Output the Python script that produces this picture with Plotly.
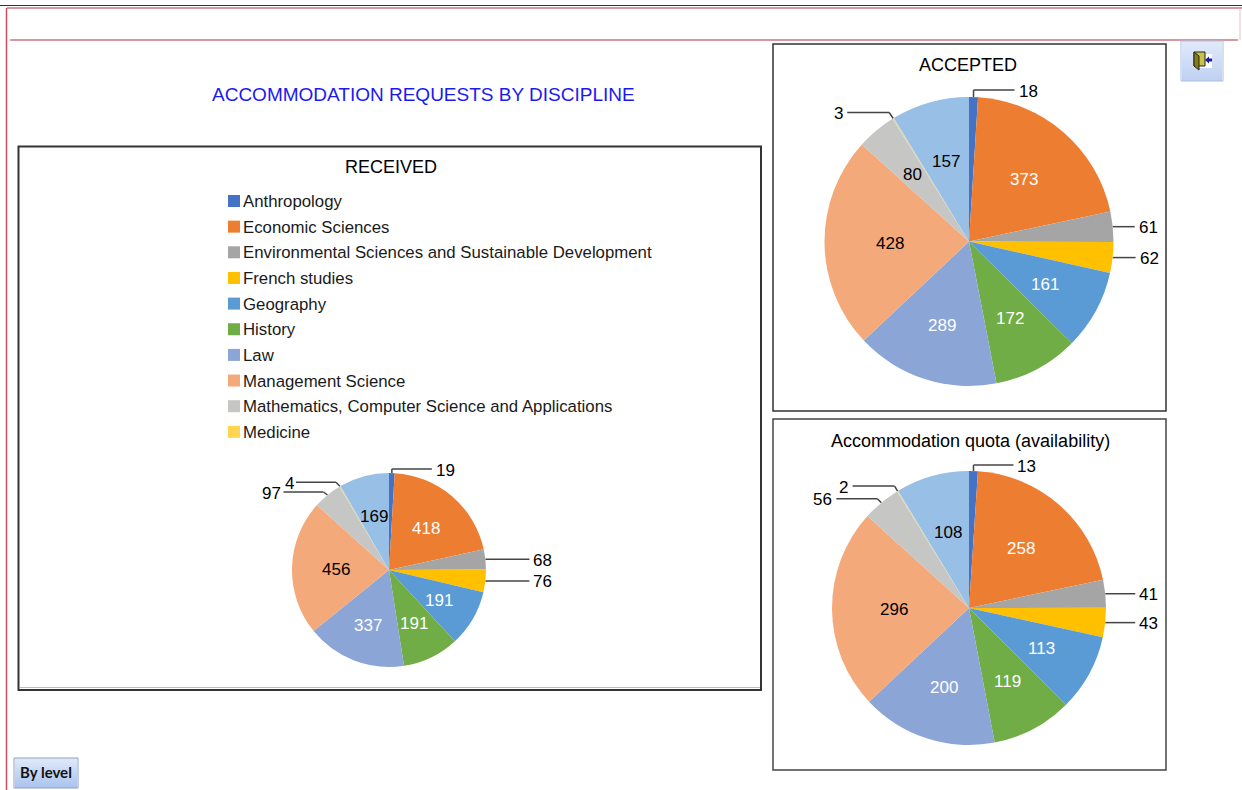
import math
import plotly.graph_objects as go

W, H = 1242, 790

CATEGORIES = ["Anthropology", "Economic Sciences", "Environmental Sciences and Sustainable Development",
              "French studies", "Geography", "History", "Law", "Management Science",
              "Mathematics, Computer Science and Applications", "Medicine", "(not listed in the legend)"]
RECEIVED = [19, 418, 68, 76, 191, 191, 337, 456, 97, 4, 169]
ACCEPTED = [18, 373, 61, 62, 161, 172, 289, 428, 80, 3, 157]
QUOTA = [13, 258, 41, 43, 113, 119, 200, 296, 56, 2, 108]
COLORS = ["#4472C4", "#ED7D31", "#A5A5A5", "#FFC000", "#5B9BD5", "#70AD47",
          "#8AA5D6", "#F4A97A", "#C6C6C4", "#FFD54F", "#98BFE5"]
PIE_COLORS = COLORS[:9] + ["#DDD8A8"] + COLORS[10:]
LABEL_COLORS = ["#000", "#fff", "#000", "#000", "#fff", "#fff", "#fff", "#000", "#000", "#000", "#000"]
LEGEND_ROWS = CATEGORIES[:10]

FONT = "Liberation Sans"
px = lambda x: x / W
py = lambda y: 1 - y / H
shapes, notes = [], []


def line(x0, y0, x1, y1, color="#444", width=1.5):
    shapes.append(dict(type="line", xref="paper", yref="paper", x0=px(x0), y0=py(y0), x1=px(x1), y1=py(y1),
                       line=dict(color=color, width=width)))


def rect(x0, y0, x1, y1, fill="rgba(0,0,0,0)", color="rgba(0,0,0,0)", width=0):
    shapes.append(dict(type="rect", xref="paper", yref="paper", x0=px(x0), y0=py(y0), x1=px(x1), y1=py(y1),
                       fillcolor=fill, line=dict(color=color, width=width)))


def text(x, y, s, size=17, color="#000", anchor="center", family=FONT, bold=False):
    notes.append(dict(xref="paper", yref="paper", x=px(x), y=py(y), text=f"<b>{s}</b>" if bold else s,
                      showarrow=False, xanchor=anchor, yanchor="middle", borderpad=0,
                      font=dict(family=family, size=size, color=color)))


# page frame
line(0, 5.5, 1242, 5.5, "#333", 1)
line(7, 8, 1242, 8, "#C9747F", 1.5)
line(6.5, 8, 6.5, 790, "#C9505F", 1.5)
line(1240, 8, 1240, 40, "#E8C0C5", 1)
line(10, 40, 1238, 40, "#C9747F", 1.5)

# chart frames
rect(18.5, 146.5, 761, 690, "#fff", "#333", 2)
line(20, 687.5, 760, 687.5, "#bbb", 1)
rect(773, 44, 1166, 411, "#fff", "#333", 1.5)
rect(773, 419, 1166, 770, "#fff", "#444", 1.5)

text(423, 95, "ACCOMMODATION REQUESTS BY DISCIPLINE", 19, "#1A1AF0")
text(391, 167, "RECEIVED", 18)
text(968, 65, "ACCEPTED", 18)
text(970, 441, "Accommodation quota (availability)", 18)

# legend
for i, name in enumerate(LEGEND_ROWS):
    y = 201 + i * 25.65
    rect(228, y - 6, 240, y + 6, COLORS[i])
    text(242, y + 0.5, name, 16.8, "#1a1a1a", "left")

# pies: center x, center y, radius; leaders by slice index: knee dx, knee dy, run, label gap
PIES = [
    (RECEIVED, "received", 389, 570, 97, {
        0: (0, -4, 40, 3), 2: (0, 0, 44, 3), 3: (0, 0, 44, 3),
        8: (-4, -3, -40, 1), 9: (-4, -4, -40, 1)}),
    (ACCEPTED, "accepted", 969, 241.5, 144.5, {
        0: (0, -7, 41, 3), 2: (0, 0, 22, 3), 3: (0, 0, 23, 3), 9: (-4, -6, -42, 3)}),
    (QUOTA, "quota", 969, 608, 137, {
        0: (0, -6, 40, 3), 2: (0, 0, 30, 3), 3: (0, 0, 30, 3),
        8: (-4, -4, -41, 3), 9: (-3, -5, -42, 4)}),
]
RADIAL = {4: 0.6, 5: 0.6, 6: 0.6, 7: 0.55, 8: 0.61}
RADIAL_DEFAULT = 0.58
traces = []
for values, name, cx, cy, r, leaders in PIES:
    traces.append(go.Pie(labels=CATEGORIES, values=values, name=name, sort=False, direction="clockwise",
                         rotation=0, textinfo="none", showlegend=False,
                         marker=dict(colors=PIE_COLORS, line=dict(width=0)),
                         domain=dict(x=[px(cx - r), px(cx + r)], y=[py(cy + r), py(cy - r)])))
    total, cum = sum(values), 0
    for i, v in enumerate(values):
        a = 2 * math.pi * (cum + v / 2) / total
        cum += v
        sx, sy = math.sin(a), -math.cos(a)
        if i in leaders:
            kx, ky, run, gap = leaders[i]
            ax, ay = cx + r * sx, cy + r * sy
            bx, by = ax + kx, ay + ky
            ex = bx + run
            line(ax, ay, bx, by)
            line(bx, by, ex, by)
            if run > 0:
                text(ex + gap, by + 1, str(v), 17, "#000", "left")
            else:
                text(ex - gap, by + 1, str(v), 17, "#000", "right")
        else:
            f = RADIAL.get(i, RADIAL_DEFAULT)
            text(cx + f * r * sx, cy + f * r * sy + 1, str(v), 17, LABEL_COLORS[i])


# buttons
def button(x0, y0, x1, y1, top, bottom, border):
    n = int(y1 - y0)
    t = lambda a, b, f: round(a + (b - a) * f)
    for k in range(n):
        f = k / max(n - 1, 1)
        c = "rgb(%d,%d,%d)" % tuple(t(a, b, f) for a, b in zip(top, bottom))
        rect(x0 + 1, y0 + k, x1 - 1, y0 + k + 1, c)
    rect(x0, y0, x1, y1, "rgba(0,0,0,0)", border, 1)


button(1181, 41, 1223, 81, (226, 234, 250), (190, 208, 242), "#AFC0E0")
button(14, 758, 78, 788, (224, 233, 250), (170, 195, 238), "#8CA0C4")
text(45.5, 772, "By level", 15, "#111", family="Lato", bold=True)

# exit-door icon
rect(1199, 54, 1212, 68, "#fff")
rect(1194, 52, 1205, 66, "#C7C24A", "#222", 1)
shapes.append(dict(type="path", xref="paper", yref="paper",
                   path=f"M{px(1194)},{py(52)} L{px(1199)},{py(56)} L{px(1199)},{py(70)} L{px(1194)},{py(66)} Z",
                   fillcolor="#8A7A12", line=dict(color="#222", width=1)))
shapes.append(dict(type="path", xref="paper", yref="paper",
                   path=f"M{px(1205)},{py(60)} L{px(1209)},{py(56.5)} L{px(1209)},{py(58.5)} L{px(1212)},{py(58.5)} "
                        f"L{px(1212)},{py(61.5)} L{px(1209)},{py(61.5)} L{px(1209)},{py(63.5)} Z",
                   fillcolor="#1A1A9A", line=dict(width=0)))

fig = go.Figure(traces)
fig.update_layout(width=W, height=H, margin=dict(l=0, r=0, t=0, b=0), autosize=False,
                  paper_bgcolor="#fff", plot_bgcolor="#fff", shapes=shapes, annotations=notes,
                  font=dict(family=FONT))
for s in fig.layout.shapes:
    s.layer = "below"
fig.write_html("out.html", config=dict(displayModeBar=False),
               post_script="document.body.style.margin='0';document.body.style.overflow='hidden';")
